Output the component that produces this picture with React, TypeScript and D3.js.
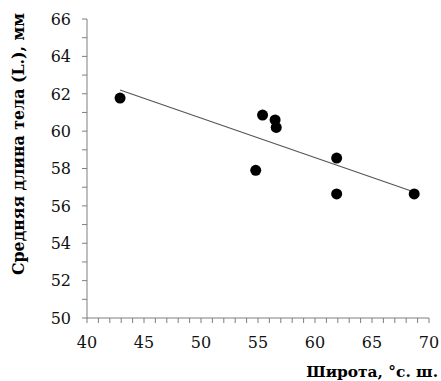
import React from "react";
import * as d3 from "d3";

const width = 441;
const height = 381;
const margin = { top: 19, right: 12, bottom: 63, left: 87 };

// latitude (°N) and mean body length (mm)
const latitude = [42.9, 55.4, 56.5, 56.6, 54.8, 61.9, 61.9, 68.7];
const bodyLength = [61.77, 60.86, 60.6, 60.2, 57.9, 58.56, 56.64, 56.64];
const xTicks = [40, 45, 50, 55, 60, 65, 70];
const yTicks = [50, 52, 54, 56, 58, 60, 62, 64, 66];

export default function App() {
  const x = d3.scaleLinear().domain([40, 70]).range([margin.left, width - margin.right]);
  const y = d3.scaleLinear().domain([50, 66]).range([height - margin.bottom, margin.top]);

  // least squares trend line
  const mx = d3.mean(latitude)!;
  const my = d3.mean(bodyLength)!;
  const sxy = d3.sum(latitude, (d, i) => (d - mx) * (bodyLength[i] - my));
  const sxx = d3.sum(latitude, d => (d - mx) ** 2);
  const slope = sxy / sxx;
  const fit = (v: number) => my + slope * (v - mx);
  const x0 = d3.min(latitude)!, x1 = d3.max(latitude)!;
  const line = d3.line<number>().x(d => x(d)).y(d => y(fit(d)));

  const minorX = d3.range(40, 71, 1);
  const minorY = d3.range(50, 67, 1);
  const axisColor = "#7f7f7f";
  const y0 = height - margin.bottom;

  return (
    <svg width={width} height={height} style={{ position: "absolute", left: 0, top: 0 }}
      fontFamily="'DejaVu Serif', serif">
      <rect width={width} height={height} fill="#fff" />
      {/* y axis */}
      <line x1={margin.left} x2={margin.left} y1={margin.top} y2={y0} stroke={axisColor} />
      {minorY.map(v => (
        <line key={"my" + v} x1={margin.left - 5} x2={margin.left} y1={y(v)} y2={y(v)} stroke={axisColor} />
      ))}
      {yTicks.map(v => (
        <text key={"ty" + v} x={margin.left - 16} y={y(v)} dy="0.36em" textAnchor="end"
          fontSize={16} fill="#111">{v}</text>
      ))}
      {/* x axis */}
      <line x1={margin.left} x2={width - margin.right} y1={y0} y2={y0} stroke={axisColor} />
      {minorX.map(v => (
        <line key={"mx" + v} x1={x(v)} x2={x(v)} y1={y0} y2={y0 + 5} stroke={axisColor} />
      ))}
      {xTicks.map(v => (
        <text key={"tx" + v} x={x(v)} y={y0 + 30} textAnchor="middle" fontSize={16} fill="#111">{v}</text>
      ))}
      {/* trend */}
      <path d={line([x0, x1])!} stroke="#555" strokeWidth={1.2} fill="none" />
      {latitude.map((d, i) => (
        <circle key={i} cx={x(d)} cy={y(bodyLength[i])} r={5.5} fill="#000" />
      ))}
      {/* titles */}
      <text transform={`translate(24,144) rotate(-90)`} textAnchor="middle"
        fontWeight="bold" fontSize={15.8} fill="#000">Средняя длина тела (L.), мм</text>
      <text x={width - 3} y={377} textAnchor="end" fontWeight="bold" fontSize={15.4} fill="#000">Широта, °с. ш.</text>
    </svg>
  );
}
